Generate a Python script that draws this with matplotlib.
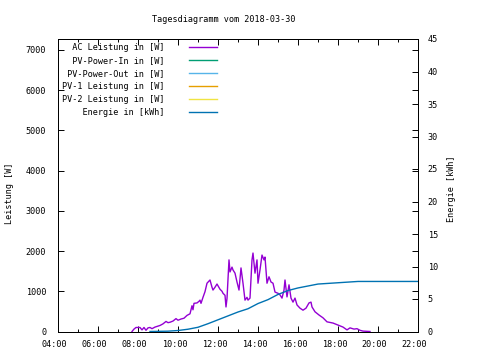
import matplotlib
matplotlib.use("Agg")
import matplotlib.pyplot as plt
import matplotlib.transforms as mtransforms
import numpy as np

plt.rcParams['font.family'] = ['DejaVu Sans Mono']
FS = 6.1

title = "Tagesdiagramm vom 2018-03-30"
series_names = ["AC Leistung in [W]", "PV-Power-In in [W]", "PV-Power-Out in [W]",
                "PV-1 Leistung in [W]", "PV-2 Leistung in [W]", "Energie in [kWh]"]
series_colors = ["#9400d3", "#009e73", "#56b4e9", "#e69f00", "#f0e442", "#0072b2"]

# AC power readings (time, W)
ac_time = ["07:42", "07:48", "07:54", "08:06", "08:12", "08:18", "08:24", "08:30", "08:36",
           "08:42", "08:51", "09:06", "09:15", "09:24", "09:30", "09:36", "09:45", "09:54",
           "10:00", "10:09", "10:18", "10:27", "10:36", "10:42", "10:45", "10:48", "10:57",
           "11:03", "11:06", "11:09", "11:15", "11:21", "11:27", "11:36", "11:42", "11:45",
           "11:51", "11:57", "12:06", "12:12", "12:15", "12:21", "12:24", "12:27", "12:33",
           "12:36", "12:42", "12:45", "12:51", "12:57", "13:03", "13:09", "13:15", "13:21",
           "13:27", "13:30", "13:36", "13:42", "13:45", "13:51", "13:57", "14:00", "14:06",
           "14:12", "14:18", "14:21", "14:27", "14:33", "14:39", "14:45", "14:51", "15:00",
           "15:06", "15:12", "15:18", "15:21", "15:27", "15:33", "15:39", "15:45", "15:51",
           "15:57", "16:06", "16:15", "16:24", "16:33", "16:39", "16:42", "16:51", "17:03",
           "17:15", "17:27", "17:45", "18:00", "18:15", "18:27", "18:36", "18:48", "18:57",
           "19:06", "19:15", "19:36"]
ac_power = [0, 60, 100, 100, 40, 100, 30, 90, 100,
            70, 110, 150, 190, 250, 220, 230, 260, 320,
            280, 310, 330, 400, 440, 640, 540, 700, 710,
            750, 780, 700, 850, 990, 1200, 1280, 1100, 1030,
            1100, 1180, 1050, 1000, 950, 900, 610, 820, 1780,
            1480, 1600, 1530, 1450, 1230, 1030, 1580, 1200, 780,
            850, 780, 830, 1780, 1950, 1450, 1780, 1200, 1530,
            1900, 1780, 1850, 1200, 1360, 1230, 1200, 980, 950,
            910, 830, 1030, 1280, 860, 1160, 830, 730, 830,
            660, 580, 530, 580, 710, 730, 610, 490, 410,
            340, 240, 210, 160, 110, 40, 90, 60, 70,
            30, 10, 0]

# cumulative energy (time, kWh)
en_time = ["08:36", "09:30", "10:00", "10:30", "11:00", "11:30", "12:00", "12:30", "13:00",
           "13:30", "14:00", "14:30", "15:00", "15:30", "16:00", "16:30", "17:00", "17:30",
           "18:00", "18:30", "19:00", "22:00"]
en_kwh = [0.0, 0.05, 0.15, 0.35, 0.65, 1.2, 1.8, 2.4, 3.0,
          3.5, 4.3, 4.9, 5.7, 6.3, 6.7, 7.0, 7.3, 7.4,
          7.5, 7.6, 7.7, 7.7]

x_ticks = [4, 6, 8, 10, 12, 14, 16, 18, 20, 22]
y_ticks = [0, 1000, 2000, 3000, 4000, 5000, 6000, 7000]
y2_ticks = [0, 5, 10, 15, 20, 25, 30, 35, 40, 45]


def to_hours(times):
    return np.array([int(t[:2]) + int(t[3:]) / 60 for t in times])


fig = plt.figure(figsize=(4.8, 3.6), dpi=100)
ax = fig.add_axes([58 / 480, 1 - 331.5 / 360, 360 / 480, 292.5 / 360])
ax2 = ax.twinx()

lines = []
l, = ax.plot(to_hours(ac_time), ac_power, color=series_colors[0], lw=1.0)
lines.append(l)
for c in series_colors[1:5]:
    l, = ax.plot([], [], color=c, lw=1.0)
    lines.append(l)
l, = ax2.plot(to_hours(en_time), en_kwh, color=series_colors[5], lw=1.0)
lines.append(l)

ax.set_xlim(4, 22)
ax.set_ylim(0, 7270)
ax2.set_ylim(0, 45)

ax.set_xticks(x_ticks)
ax.set_xticklabels(["%02d:00" % h for h in x_ticks])
ax.set_xticks(np.arange(5, 22, 2), minor=True)
ax.set_yticks(y_ticks)
ax.set_yticklabels([str(v) for v in y_ticks])
ax2.set_yticks(y2_ticks)
ax2.set_yticklabels([str(v) for v in y2_ticks])

ax.tick_params(axis='both', which='major', direction='in', length=4, width=0.7,
               labelsize=FS, top=True, right=True, pad=6)
ax.tick_params(axis='y', pad=8.5)
ax.tick_params(axis='x', which='minor', direction='in', length=2, width=0.7, top=True)
ax2.tick_params(axis='y', direction='in', length=4, width=0.7, labelsize=FS, pad=7)

# gnuplot's bitmap labels sit a little left of their ticks
offset = mtransforms.ScaledTranslation(-3.5 / 100, 0, fig.dpi_scale_trans)
for lab in ax.get_xticklabels():
    lab.set_transform(lab.get_transform() + offset)

for a in (ax, ax2):
    for s in a.spines.values():
        s.set_linewidth(0.7)

fig.text(223.5 / 480, 1 - 19 / 360, title, fontsize=FS, ha='center', va='center')
fig.text(9.5 / 480, 1 - 193 / 360, "Leistung [W]", fontsize=FS, rotation=90,
         ha='center', va='center')
fig.text(452 / 480, 1 - 189 / 360, "Energie [kWh]", fontsize=FS, rotation=90,
         ha='center', va='center')

width = max(len(n) for n in series_names)
labels = [n.rjust(width) for n in series_names]
leg = ax2.legend(lines, labels, loc='upper left', bbox_to_anchor=(0.012, 0.985),
                 frameon=False, markerfirst=False, fontsize=FS, handlelength=3.2,
                 handletextpad=2.9, labelspacing=0.47, borderpad=0, borderaxespad=0)

fig.savefig("out.png", dpi=100)
